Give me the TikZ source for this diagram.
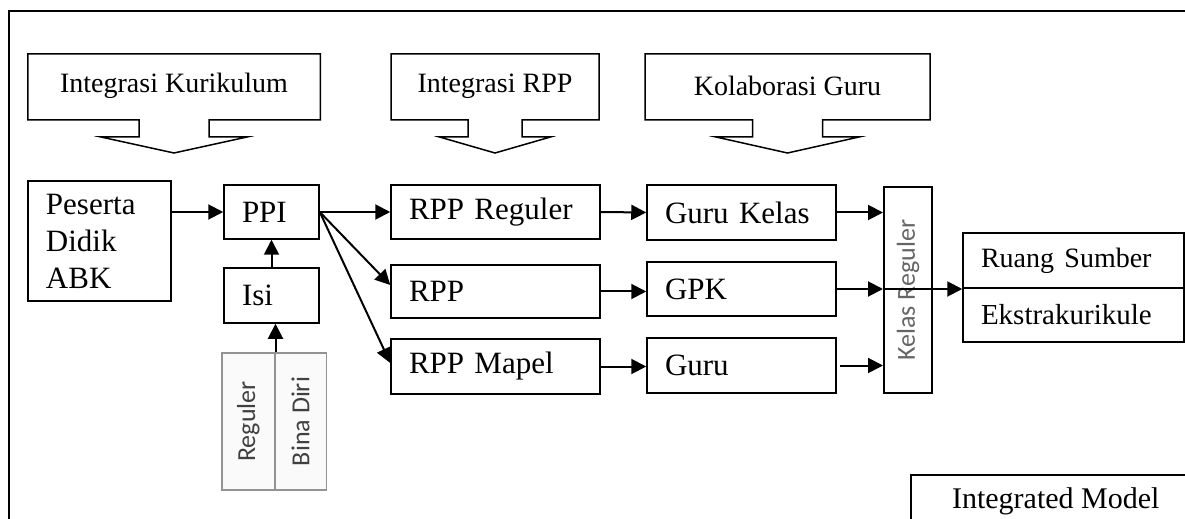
\documentclass[tikz,border=0pt]{standalone}
\usepackage{fontspec}
\usepackage{graphicx}
\setmainfont{Liberation Serif}
\newfontfamily\sansabu{Carlito}
\usetikzlibrary{arrows.meta}
\usetikzlibrary{calc}
\newcommand{\kotak}[6]{\pgfmathsetmacro{\lebar}{#4/2-18} \node[kotak, minimum width=#4*0.5pt, minimum height=#5*0.5pt, text width=\lebar pt] (#1) at ({#2+#4/2},{#3+#5/2}) {#6};}
\newcommand{\callout}[6]{\draw[line width=0.75pt] ({#2-#3/2},54) -- ({#2+#3/2},54) -- ({#2+#3/2},120) -- ({#2+#4},120) -- ({#2+#4},137) -- ({#2+#5},137) -- (#2,153) -- ({#2-#5},137) -- ({#2-#4},137) -- ({#2-#4},120) -- ({#2-#3/2},120) -- cycle; \node[font=\fontsize{14}{16}\selectfont] (#1) at (#2,86) {#6};}
\tikzset{
  kotak/.style={draw, line width=0.75pt, inner xsep=9pt, inner ysep=0pt, align=left, font=\fontsize{15.5}{18.5}\selectfont},
  panah/.style={line width=1pt, -{Triangle[length=7.5pt,width=7.5pt]}},
  tegak/.style={draw=gray!85, fill=gray!4, line width=0.75pt, inner sep=0pt, text=black!75, font=\sansabu\fontsize{13}{15}\selectfont},
}

\begin{document}
\begin{tikzpicture}[x=0.5pt, y=-0.5pt]
  \useasboundingbox (0,0) rectangle (1185,519);
  \clip (0,0) rectangle (1185,519);
  % frame
  \draw[line width=0.75pt] (9,540) -- (9,11) -- (1200,11);
  % callouts
  \callout{kurikulum}{174}{292.5}{35}{73}{Integrasi Kurikulum}
  \callout{integrasirpp}{495}{208}{27}{55.5}{Integrasi RPP}
  \callout{kolaborasi}{787.5}{285}{35}{71.5}{Kolaborasi Guru}
  % boxes
  \kotak{peserta}{28}{181}{143}{120}{Peserta\\Didik\\ABK}
  \kotak{ppi}{224}{185}{95}{54}{PPI}
  \kotak{isi}{224}{268}{95}{55}{Isi}
  \kotak{rppreg}{391}{185}{209}{54}{RPP Reguler}
  \kotak{rpp}{391}{265}{209}{53}{RPP}
  \kotak{rppmapel}{391}{339}{209}{55}{RPP Mapel}
  \kotak{gurukelas}{647}{185}{189}{55}{Guru Kelas}
  \kotak{gpk}{647}{262}{189}{54}{GPK}
  \kotak{guru}{647}{338}{189}{55}{Guru}
  \kotak{ruang}{963}{233}{221}{55}{\fontsize{14}{16}\selectfont Ruang Sumber}
  \kotak{ekstra}{963}{288}{221}{54}{\fontsize{14.5}{16}\selectfont Ekstrakurikule}
  \node[kotak, anchor=north west, minimum width=145pt, minimum height=27pt, inner xsep=19pt, font=\fontsize{15}{17}\selectfont] (integrated) at (910,474) {Integrated Model};
  % vertical boxes
  \node[draw, line width=1pt, minimum width=24pt, minimum height=103pt, inner sep=0pt, text=black!60, font=\sansabu\fontsize{13}{15}\selectfont] (kelas) at (908,290) {\rotatebox{90}{Kelas Reguler}};
  \node[tegak, minimum width=26.5pt, minimum height=68.5pt] (reguler) at (248.25,421.5) {\rotatebox{90}{Reguler}};
  \node[tegak, minimum width=25.75pt, minimum height=68.5pt] (binadiri) at (300.63,421.5) {\rotatebox{90}{Bina Diri}};
  % arrows
  \draw[panah] (ppi.west -| peserta.east) -- (ppi.west);
  \draw[panah] (isi.north) -- (ppi.south);
  \draw[panah] (reguler.north east) -- (reguler.north east |- isi.south);
  \draw[panah] (ppi.east) -- (rppreg.west);
  \draw[panah] (ppi.east) -- ([yshift=3.25pt]rpp.west);
  \draw[panah] (ppi.east) -- ([yshift=1.75pt]rppmapel.west);
  \draw[panah] (rppreg.east) -- (gurukelas.west);
  \draw[panah] (rpp.east) -- (rpp.east -| gpk.west);
  \draw[panah] (rppmapel.east) -- (rppmapel.east -| guru.west);
  \draw[panah] (gurukelas.east) -- (gurukelas.east -| kelas.west);
  \draw[panah] (gpk.east) -- (gpk.east -| kelas.west);
  \draw[panah] (gpk.east -| kelas.west) -- (gpk.east -| ruang.west);
  \draw[panah] ([xshift=1.5pt]guru.east) -- (guru.east -| kelas.west);
\end{tikzpicture}
\end{document}
